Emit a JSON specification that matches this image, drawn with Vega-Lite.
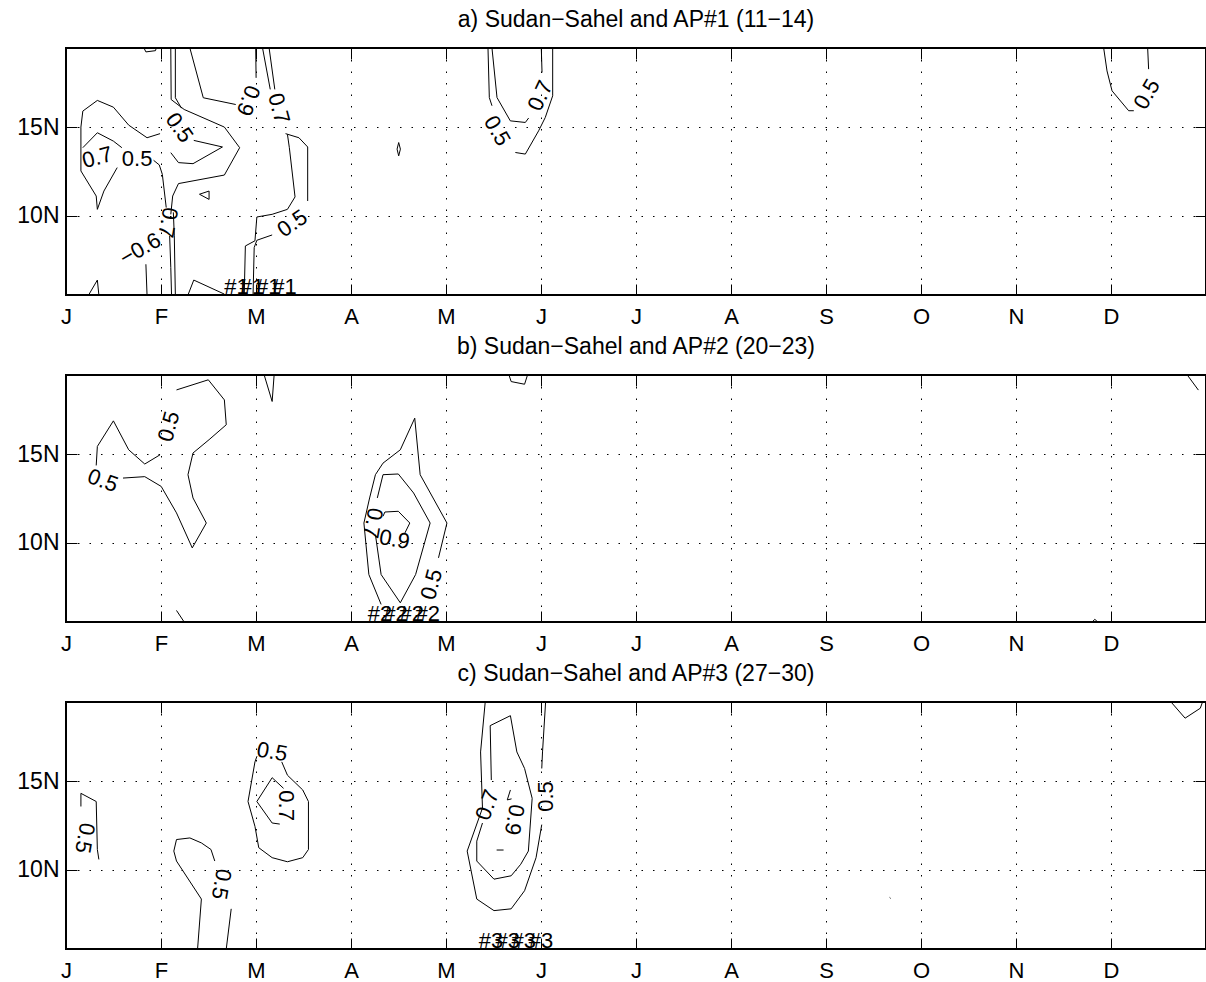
{
"$schema": "https://vega.github.io/schema/vega-lite/v6.json",
"padding": {"left": 15, "top": 7, "right": 2, "bottom": 20},
"spacing": 80,
"bounds": "flush",
"config": {
  "font": "Liberation Sans",
  "view": {"stroke": "black", "strokeWidth": 2},
  "title": {"fontSize": 23, "fontWeight": "normal", "color": "black", "offset": 16, "baseline": "alphabetic", "anchor": "middle", "frame": "group", "font": "Liberation Sans"}
},
"datasets": {
"la": [
{"g":"a1","i":0,"x":0.99,"y":14.63},{"g":"a1","i":1,"x":0.853,"y":14.4},{"g":"a1","i":2,"x":0.66,"y":15.11},{"g":"a1","i":3,"x":0.499,"y":16.12},{"g":"a1","i":4,"x":0.33,"y":16.5},{"g":"a1","i":5,"x":0.177,"y":15.9},{"g":"a1","i":6,"x":0.157,"y":15.0},{"g":"a1","i":7,"x":0.157,"y":12.53},{"g":"a1","i":8,"x":0.318,"y":11.12},{"g":"a1","i":9,"x":0.33,"y":10.37},{"g":"a1","i":10,"x":0.399,"y":11.4},{"g":"a1","i":11,"x":0.539,"y":12.72},
{"g":"a2","i":0,"x":0.177,"y":13.84},{"g":"a2","i":1,"x":0.33,"y":14.68},{"g":"a2","i":2,"x":0.499,"y":14.21},{"g":"a2","i":3,"x":0.588,"y":13.84},
{"g":"a3","i":0,"x":0.922,"y":13.13},{"g":"a3","i":1,"x":0.982,"y":12.87},{"g":"a3","i":2,"x":1.014,"y":12.34},{"g":"a3","i":3,"x":1.055,"y":10.47},
{"g":"a3b","i":0,"x":1.091,"y":8.88},{"g":"a3b","i":1,"x":1.103,"y":7.1},{"g":"a3b","i":2,"x":1.111,"y":5.55},
{"g":"a3c","i":0,"x":1.13,"y":10.2},{"g":"a3c","i":1,"x":1.14,"y":8.88},{"g":"a3c","i":2,"x":1.151,"y":5.55},
{"g":"a4","i":0,"x":1.103,"y":19.45},{"g":"a4","i":1,"x":1.107,"y":16.55},{"g":"a4","i":2,"x":1.244,"y":15.99},{"g":"a4","i":3,"x":1.667,"y":15.0},{"g":"a4","i":4,"x":1.828,"y":13.84},{"g":"a4","i":5,"x":1.667,"y":12.3},{"g":"a4","i":6,"x":1.184,"y":11.82},{"g":"a4","i":7,"x":1.123,"y":11.12},{"g":"a4","i":8,"x":1.103,"y":10.09},
{"g":"a4b","i":0,"x":1.151,"y":19.45},{"g":"a4b","i":1,"x":1.151,"y":16.65},{"g":"a4b","i":2,"x":1.216,"y":16.06},
{"g":"a5","i":0,"x":1.345,"y":14.25},{"g":"a5","i":1,"x":1.647,"y":13.88},{"g":"a5","i":2,"x":1.337,"y":12.94},{"g":"a5","i":3,"x":1.184,"y":13.0},{"g":"a5","i":4,"x":1.103,"y":13.56},
{"g":"a6","i":0,"x":1.304,"y":19.45},{"g":"a6","i":1,"x":1.445,"y":16.65},{"g":"a6","i":2,"x":1.787,"y":16.27},
{"g":"a7","i":0,"x":1.997,"y":19.45},{"g":"a7","i":1,"x":2.001,"y":17.77},
{"g":"a7b","i":0,"x":2.069,"y":19.45},{"g":"a7b","i":1,"x":2.15,"y":17.12},
{"g":"a7c","i":0,"x":2.138,"y":19.45},{"g":"a7c","i":1,"x":2.198,"y":17.12},
{"g":"a8","i":0,"x":2.331,"y":14.59},{"g":"a8","i":1,"x":2.351,"y":13.84},{"g":"a8","i":2,"x":2.411,"y":11.07},{"g":"a8","i":3,"x":2.331,"y":10.37},{"g":"a8","i":4,"x":2.17,"y":10.09},{"g":"a8","i":5,"x":2.009,"y":9.94},{"g":"a8","i":6,"x":1.989,"y":8.6},{"g":"a8","i":7,"x":1.888,"y":8.31},{"g":"a8","i":8,"x":1.876,"y":5.55},
{"g":"a9","i":0,"x":2.311,"y":14.63},{"g":"a9","i":1,"x":2.452,"y":14.4},{"g":"a9","i":2,"x":2.544,"y":13.88},{"g":"a9","i":3,"x":2.544,"y":10.84},
{"g":"a10","i":0,"x":2.17,"y":8.93},{"g":"a10","i":1,"x":2.009,"y":8.63},{"g":"a10","i":2,"x":1.981,"y":8.22},{"g":"a10","i":3,"x":1.969,"y":5.55},
{"g":"a11","i":0,"x":1.405,"y":11.22},{"g":"a11","i":1,"x":1.506,"y":11.4},{"g":"a11","i":2,"x":1.506,"y":10.93},{"g":"a11","i":3,"x":1.405,"y":11.22},
{"g":"a12","i":0,"x":0.238,"y":5.55},{"g":"a12","i":1,"x":0.33,"y":6.39},{"g":"a12","i":2,"x":0.346,"y":5.55},
{"g":"a13","i":0,"x":0.841,"y":7.28},{"g":"a13","i":1,"x":0.853,"y":5.55},
{"g":"a14","i":0,"x":1.284,"y":5.55},{"g":"a14","i":1,"x":1.345,"y":6.39},{"g":"a14","i":2,"x":1.667,"y":5.6},
{"g":"a15","i":0,"x":0.821,"y":19.45},{"g":"a15","i":1,"x":0.841,"y":19.23},{"g":"a15","i":2,"x":0.942,"y":19.3},{"g":"a15","i":3,"x":0.95,"y":19.45},
{"g":"a16","i":0,"x":3.502,"y":14.13},{"g":"a16","i":1,"x":3.52,"y":13.76},{"g":"a16","i":2,"x":3.502,"y":13.38},{"g":"a16","i":3,"x":3.485,"y":13.76},{"g":"a16","i":4,"x":3.502,"y":14.13},
{"g":"a17","i":0,"x":4.442,"y":19.45},{"g":"a17","i":1,"x":4.456,"y":16.66},{"g":"a17","i":2,"x":4.484,"y":16.2},
{"g":"a18","i":0,"x":4.484,"y":19.45},{"g":"a18","i":1,"x":4.537,"y":16.66},{"g":"a18","i":2,"x":4.677,"y":15.35},{"g":"a18","i":3,"x":4.835,"y":15.26},{"g":"a18","i":4,"x":4.87,"y":15.51},
{"g":"a19","i":0,"x":5.003,"y":19.45},{"g":"a19","i":1,"x":5.011,"y":18.07},
{"g":"a20","i":0,"x":5.123,"y":19.45},{"g":"a20","i":1,"x":5.123,"y":16.76},{"g":"a20","i":2,"x":5.045,"y":15.54},{"g":"a20","i":3,"x":4.975,"y":14.79},{"g":"a20","i":4,"x":4.835,"y":13.48},{"g":"a20","i":5,"x":4.73,"y":13.57},
{"g":"a21","i":0,"x":10.923,"y":19.45},{"g":"a21","i":1,"x":10.958,"y":18.16},{"g":"a21","i":2,"x":11.011,"y":17.04},{"g":"a21","i":3,"x":11.186,"y":15.92},{"g":"a21","i":4,"x":11.24,"y":15.92},
{"g":"a22","i":0,"x":11.386,"y":19.45},{"g":"a22","i":1,"x":11.396,"y":18.26}
],
"ta": [
{"t":"0.7","x":0.33,"y":13.28,"a":-15},{"t":"0.5","x":0.749,"y":13.2,"a":0},{"t":"0.5","x":1.192,"y":14.96,"a":55},{"t":"0.7","x":1.071,"y":9.63,"a":100},{"t":"0.9","x":1.916,"y":16.5,"a":110},{"t":"0.7","x":2.238,"y":16.05,"a":75},{"t":"0.5","x":2.383,"y":9.57,"a":-35},{"t":"−0.6","x":0.781,"y":8.13,"a":-30},{"t":"0.5","x":4.537,"y":14.79,"a":60},{"t":"0.7","x":4.993,"y":16.76,"a":-65},{"t":"0.5","x":11.379,"y":16.85,"a":-60}
],
"ha": [{"t":"#1","x":1.667,"y":5.62},{"t":"#1","x":1.83,"y":5.62},{"t":"#1","x":2.0,"y":5.62},{"t":"#1","x":2.17,"y":5.62}],
"lb": [
{"g":"b1a","i":0,"x":0.318,"y":14.36},{"g":"b1a","i":1,"x":0.33,"y":15.43},{"g":"b1a","i":2,"x":0.499,"y":16.87},{"g":"b1a","i":3,"x":0.66,"y":15.24},{"g":"b1a","i":4,"x":0.829,"y":14.44},{"g":"b1a","i":5,"x":0.99,"y":14.96},
{"g":"b1b","i":0,"x":1.163,"y":18.61},{"g":"b1b","i":1,"x":1.498,"y":19.18},{"g":"b1b","i":2,"x":1.667,"y":18.05},{"g":"b1b","i":3,"x":1.687,"y":16.65},{"g":"b1b","i":4,"x":1.506,"y":15.81},{"g":"b1b","i":5,"x":1.337,"y":15.06},{"g":"b1b","i":6,"x":1.284,"y":13.84},{"g":"b1b","i":7,"x":1.337,"y":12.53},{"g":"b1b","i":8,"x":1.477,"y":11.12},{"g":"b1b","i":9,"x":1.329,"y":9.72},{"g":"b1b","i":10,"x":1.163,"y":11.69},{"g":"b1b","i":11,"x":1.002,"y":13.18},{"g":"b1b","i":12,"x":0.829,"y":13.73},{"g":"b1b","i":13,"x":0.6,"y":13.65},
{"g":"b2","i":0,"x":2.089,"y":19.4},{"g":"b2","i":1,"x":2.17,"y":17.96},{"g":"b2","i":2,"x":2.19,"y":19.4},
{"g":"b3","i":0,"x":4.666,"y":19.4},{"g":"b3","i":1,"x":4.686,"y":19.08},{"g":"b3","i":2,"x":4.827,"y":18.93},{"g":"b3","i":3,"x":4.855,"y":19.4},
{"g":"b4","i":0,"x":1.163,"y":6.2},{"g":"b4","i":1,"x":1.244,"y":5.55},
{"g":"b5a","i":0,"x":3.671,"y":17.02},{"g":"b5a","i":1,"x":3.519,"y":15.24},{"g":"b5a","i":2,"x":3.337,"y":14.49},{"g":"b5a","i":3,"x":3.257,"y":13.84},{"g":"b5a","i":4,"x":3.196,"y":12.53},{"g":"b5a","i":5,"x":3.136,"y":11.12},{"g":"b5a","i":6,"x":3.188,"y":8.22},{"g":"b5a","i":7,"x":3.317,"y":6.54},
{"g":"b5b","i":0,"x":3.671,"y":17.02},{"g":"b5b","i":1,"x":3.728,"y":13.84},{"g":"b5b","i":2,"x":4.01,"y":11.12},{"g":"b5b","i":3,"x":3.921,"y":9.16},
{"g":"b6","i":0,"x":3.277,"y":12.53},{"g":"b6","i":1,"x":3.337,"y":13.84},{"g":"b6","i":2,"x":3.498,"y":13.88},{"g":"b6","i":3,"x":3.659,"y":12.81},{"g":"b6","i":4,"x":3.833,"y":11.12},{"g":"b6","i":5,"x":3.68,"y":8.22},{"g":"b6","i":6,"x":3.519,"y":6.63},{"g":"b6","i":7,"x":3.317,"y":8.22},{"g":"b6","i":8,"x":3.257,"y":10.47},
{"g":"b7","i":0,"x":3.337,"y":11.5},{"g":"b7","i":1,"x":3.357,"y":11.74},{"g":"b7","i":2,"x":3.498,"y":11.78},{"g":"b7","i":3,"x":3.619,"y":11.12},{"g":"b7","i":4,"x":3.559,"y":10.47},
{"g":"b8","i":0,"x":11.81,"y":19.4},{"g":"b8","i":1,"x":11.92,"y":18.6},
{"g":"b9","i":0,"x":10.8,"y":5.55},{"g":"b9","i":1,"x":10.83,"y":5.7},{"g":"b9","i":2,"x":10.86,"y":5.55}
],
"tb": [
{"t":"0.5","x":1.083,"y":16.55,"a":-75},{"t":"0.5","x":0.386,"y":13.5,"a":20},{"t":"0.5","x":3.849,"y":7.66,"a":-75},{"t":"0.7","x":3.229,"y":11.12,"a":100},{"t":"0.9","x":3.458,"y":10.19,"a":10}
],
"hb": [{"t":"#2","x":3.176,"y":5.62},{"t":"#2","x":3.34,"y":5.62},{"t":"#2","x":3.51,"y":5.62},{"t":"#2","x":3.68,"y":5.62}],
"lc": [
{"g":"c1","i":0,"x":0.157,"y":13.57},{"g":"c1","i":1,"x":0.157,"y":14.31},{"g":"c1","i":2,"x":0.318,"y":13.85},{"g":"c1","i":3,"x":0.33,"y":11.15},{"g":"c1","i":4,"x":0.346,"y":10.59},
{"g":"c2","i":0,"x":1.385,"y":5.55},{"g":"c2","i":1,"x":1.425,"y":8.36},{"g":"c2","i":2,"x":1.163,"y":10.5},{"g":"c2","i":3,"x":1.135,"y":11.06},{"g":"c2","i":4,"x":1.163,"y":11.71},{"g":"c2","i":5,"x":1.304,"y":11.8},{"g":"c2","i":6,"x":1.425,"y":11.52},{"g":"c2","i":7,"x":1.526,"y":11.15},{"g":"c2","i":8,"x":1.566,"y":10.5},
{"g":"c2b","i":0,"x":1.739,"y":7.81},{"g":"c2b","i":1,"x":1.687,"y":5.55},
{"g":"c3","i":0,"x":2.271,"y":16.08},{"g":"c3","i":1,"x":2.331,"y":15.33},{"g":"c3","i":2,"x":2.492,"y":14.5},{"g":"c3","i":3,"x":2.552,"y":13.85},{"g":"c3","i":4,"x":2.552,"y":11.15},{"g":"c3","i":5,"x":2.492,"y":10.69},{"g":"c3","i":6,"x":2.331,"y":10.46},{"g":"c3","i":7,"x":2.17,"y":10.69},{"g":"c3","i":8,"x":2.029,"y":11.25},{"g":"c3","i":9,"x":1.989,"y":12.45},{"g":"c3","i":10,"x":1.916,"y":13.85},{"g":"c3","i":11,"x":1.989,"y":16.08},{"g":"c3","i":12,"x":2.01,"y":16.4},
{"g":"c4","i":0,"x":2.17,"y":15.19},{"g":"c4","i":1,"x":2.009,"y":13.85},{"g":"c4","i":2,"x":2.17,"y":12.64},{"g":"c4","i":3,"x":2.25,"y":12.58},
{"g":"c4b","i":0,"x":2.17,"y":15.19},{"g":"c4b","i":1,"x":2.29,"y":14.59},
{"g":"c5","i":0,"x":4.412,"y":19.4},{"g":"c5","i":1,"x":4.364,"y":16.64},{"g":"c5","i":2,"x":4.384,"y":13.48},{"g":"c5","i":3,"x":4.223,"y":11.06},{"g":"c5","i":4,"x":4.324,"y":8.36},{"g":"c5","i":5,"x":4.505,"y":7.71},{"g":"c5","i":6,"x":4.686,"y":7.81},{"g":"c5","i":7,"x":4.827,"y":8.83},{"g":"c5","i":8,"x":4.948,"y":10.69},{"g":"c5","i":9,"x":5.008,"y":12.55},
{"g":"c5b","i":0,"x":5.008,"y":15.71},{"g":"c5b","i":1,"x":5.016,"y":16.64},{"g":"c5b","i":2,"x":5.048,"y":19.4},
{"g":"c5m","i":0,"x":4.477,"y":15.06},{"g":"c5m","i":1,"x":4.465,"y":18.12},{"g":"c5m","i":2,"x":4.678,"y":18.68},{"g":"c5m","i":3,"x":4.746,"y":16.64},{"g":"c5m","i":4,"x":4.827,"y":15.71},{"g":"c5m","i":5,"x":4.907,"y":14.03},{"g":"c5m","i":6,"x":4.867,"y":11.06},{"g":"c5m","i":7,"x":4.787,"y":10.32},{"g":"c5m","i":8,"x":4.686,"y":9.67},{"g":"c5m","i":9,"x":4.505,"y":9.48},{"g":"c5m","i":10,"x":4.324,"y":10.5},{"g":"c5m","i":11,"x":4.324,"y":11.62},{"g":"c5m","i":12,"x":4.384,"y":12.64},
{"g":"c6","i":0,"x":4.678,"y":14.5},{"g":"c6","i":1,"x":4.645,"y":13.94},{"g":"c6","i":2,"x":4.69,"y":14.0},
{"g":"c6b","i":0,"x":4.533,"y":11.12},{"g":"c6b","i":1,"x":4.606,"y":11.12},
{"g":"c7","i":0,"x":11.64,"y":19.4},{"g":"c7","i":1,"x":11.78,"y":18.54},{"g":"c7","i":2,"x":11.94,"y":19.1},{"g":"c7","i":3,"x":11.96,"y":19.4},
{"g":"c8","i":0,"x":8.67,"y":8.45},{"g":"c8","i":1,"x":8.68,"y":8.4}
],
"tc": [
{"t":"0.5","x":0.197,"y":11.8,"a":100},{"t":"0.5","x":1.634,"y":9.2,"a":100},{"t":"0.5","x":2.17,"y":16.64,"a":10},{"t":"0.7","x":2.319,"y":13.62,"a":90},{"t":"0.5","x":5.048,"y":14.13,"a":-90},{"t":"0.7","x":4.436,"y":13.66,"a":-70},{"t":"0.9","x":4.718,"y":12.83,"a":100}
],
"hc": [{"t":"#3","x":4.344,"y":5.62},{"t":"#3","x":4.52,"y":5.62},{"t":"#3","x":4.69,"y":5.62},{"t":"#3","x":4.87,"y":5.62}]
},
"vconcat": [
{
 "title": {"text": "a) Sudan−Sahel and AP#1 (11−14)"},
 "width": 1140, "height": 247,
 "resolve": {"axis": {"x": "independent", "y": "independent"}},
 "layer": [
  {"data": {"name": "la"},
   "mark": {"type": "line", "color": "black", "strokeWidth": 1, "clip": true},
   "encoding": {
    "x": {"field": "x", "type": "quantitative", "scale": {"domain": [0, 12], "nice": false, "zero": false},
      "axis": {"orient": "bottom", "values": [0,1,2,3,4,5,6,7,8,9,10,11], "labelExpr": "['J','F','M','A','M','J','J','A','S','O','N','D'][datum.value]", "title": null, "domain": false, "tickSize": -11, "tickColor": "black", "labelPadding": 22, "labelFontSize": 22, "labelColor": "black", "labelFlush": false, "labelOverlap": false, "grid": true, "gridDash": [1.5, 10], "gridColor": "black", "gridWidth": 1, "gridOpacity": 1}},
    "y": {"field": "y", "type": "quantitative", "scale": {"domain": [5.55, 19.45], "nice": false, "zero": false},
      "axis": {"orient": "left", "values": [10, 15], "labelExpr": "datum.value + 'N'", "title": null, "domain": false, "tickSize": -11, "tickColor": "black", "labelPadding": 18, "labelFontSize": 23, "labelColor": "black", "grid": true, "gridDash": [1.5, 10], "gridColor": "black", "gridWidth": 1, "gridOpacity": 1}},
    "detail": {"field": "g"},
    "order": {"field": "i", "type": "quantitative"}
   }},
  {"data": {"name": "ta"},
   "mark": {"type": "text", "fontSize": 22, "color": "black", "align": "center", "baseline": "middle"},
   "encoding": {
    "x": {"field": "x", "type": "quantitative", "axis": {"orient": "top", "values": [0,1,2,3,4,5,6,7,8,9,10,11], "labels": false, "title": null, "domain": false, "tickSize": -11, "tickColor": "black", "grid": false}},
    "y": {"field": "y", "type": "quantitative", "axis": {"orient": "right", "values": [10, 15], "labels": false, "title": null, "domain": false, "tickSize": -11, "tickColor": "black", "grid": false}},
    "text": {"field": "t"},
    "angle": {"field": "a", "type": "quantitative", "scale": null}
   }},
  {"data": {"name": "ha"},
   "mark": {"type": "text", "fontSize": 22, "color": "black", "align": "left", "baseline": "alphabetic"},
   "encoding": {
    "x": {"field": "x", "type": "quantitative", "axis": null},
    "y": {"field": "y", "type": "quantitative", "axis": null},
    "text": {"field": "t"}
   }}
 ]
},
{
 "title": {"text": "b) Sudan−Sahel and AP#2 (20−23)"},
 "width": 1140, "height": 247,
 "resolve": {"axis": {"x": "independent", "y": "independent"}},
 "layer": [
  {"data": {"name": "lb"},
   "mark": {"type": "line", "color": "black", "strokeWidth": 1, "clip": true},
   "encoding": {
    "x": {"field": "x", "type": "quantitative", "scale": {"domain": [0, 12], "nice": false, "zero": false},
      "axis": {"orient": "bottom", "values": [0,1,2,3,4,5,6,7,8,9,10,11], "labelExpr": "['J','F','M','A','M','J','J','A','S','O','N','D'][datum.value]", "title": null, "domain": false, "tickSize": -11, "tickColor": "black", "labelPadding": 22, "labelFontSize": 22, "labelColor": "black", "labelFlush": false, "labelOverlap": false, "grid": true, "gridDash": [1.5, 10], "gridColor": "black", "gridWidth": 1, "gridOpacity": 1}},
    "y": {"field": "y", "type": "quantitative", "scale": {"domain": [5.55, 19.45], "nice": false, "zero": false},
      "axis": {"orient": "left", "values": [10, 15], "labelExpr": "datum.value + 'N'", "title": null, "domain": false, "tickSize": -11, "tickColor": "black", "labelPadding": 18, "labelFontSize": 23, "labelColor": "black", "grid": true, "gridDash": [1.5, 10], "gridColor": "black", "gridWidth": 1, "gridOpacity": 1}},
    "detail": {"field": "g"},
    "order": {"field": "i", "type": "quantitative"}
   }},
  {"data": {"name": "tb"},
   "mark": {"type": "text", "fontSize": 22, "color": "black", "align": "center", "baseline": "middle"},
   "encoding": {
    "x": {"field": "x", "type": "quantitative", "axis": {"orient": "top", "values": [0,1,2,3,4,5,6,7,8,9,10,11], "labels": false, "title": null, "domain": false, "tickSize": -11, "tickColor": "black", "grid": false}},
    "y": {"field": "y", "type": "quantitative", "axis": {"orient": "right", "values": [10, 15], "labels": false, "title": null, "domain": false, "tickSize": -11, "tickColor": "black", "grid": false}},
    "text": {"field": "t"},
    "angle": {"field": "a", "type": "quantitative", "scale": null}
   }},
  {"data": {"name": "hb"},
   "mark": {"type": "text", "fontSize": 22, "color": "black", "align": "left", "baseline": "alphabetic"},
   "encoding": {
    "x": {"field": "x", "type": "quantitative", "axis": null},
    "y": {"field": "y", "type": "quantitative", "axis": null},
    "text": {"field": "t"}
   }}
 ]
},
{
 "title": {"text": "c) Sudan−Sahel and AP#3 (27−30)"},
 "width": 1140, "height": 247,
 "resolve": {"axis": {"x": "independent", "y": "independent"}},
 "layer": [
  {"data": {"name": "lc"},
   "mark": {"type": "line", "color": "black", "strokeWidth": 1, "clip": true},
   "encoding": {
    "x": {"field": "x", "type": "quantitative", "scale": {"domain": [0, 12], "nice": false, "zero": false},
      "axis": {"orient": "bottom", "values": [0,1,2,3,4,5,6,7,8,9,10,11], "labelExpr": "['J','F','M','A','M','J','J','A','S','O','N','D'][datum.value]", "title": null, "domain": false, "tickSize": -11, "tickColor": "black", "labelPadding": 22, "labelFontSize": 22, "labelColor": "black", "labelFlush": false, "labelOverlap": false, "grid": true, "gridDash": [1.5, 10], "gridColor": "black", "gridWidth": 1, "gridOpacity": 1}},
    "y": {"field": "y", "type": "quantitative", "scale": {"domain": [5.55, 19.45], "nice": false, "zero": false},
      "axis": {"orient": "left", "values": [10, 15], "labelExpr": "datum.value + 'N'", "title": null, "domain": false, "tickSize": -11, "tickColor": "black", "labelPadding": 18, "labelFontSize": 23, "labelColor": "black", "grid": true, "gridDash": [1.5, 10], "gridColor": "black", "gridWidth": 1, "gridOpacity": 1}},
    "detail": {"field": "g"},
    "order": {"field": "i", "type": "quantitative"}
   }},
  {"data": {"name": "tc"},
   "mark": {"type": "text", "fontSize": 22, "color": "black", "align": "center", "baseline": "middle"},
   "encoding": {
    "x": {"field": "x", "type": "quantitative", "axis": {"orient": "top", "values": [0,1,2,3,4,5,6,7,8,9,10,11], "labels": false, "title": null, "domain": false, "tickSize": -11, "tickColor": "black", "grid": false}},
    "y": {"field": "y", "type": "quantitative", "axis": {"orient": "right", "values": [10, 15], "labels": false, "title": null, "domain": false, "tickSize": -11, "tickColor": "black", "grid": false}},
    "text": {"field": "t"},
    "angle": {"field": "a", "type": "quantitative", "scale": null}
   }},
  {"data": {"name": "hc"},
   "mark": {"type": "text", "fontSize": 22, "color": "black", "align": "left", "baseline": "alphabetic"},
   "encoding": {
    "x": {"field": "x", "type": "quantitative", "axis": null},
    "y": {"field": "y", "type": "quantitative", "axis": null},
    "text": {"field": "t"}
   }}
 ]
}
]
}
